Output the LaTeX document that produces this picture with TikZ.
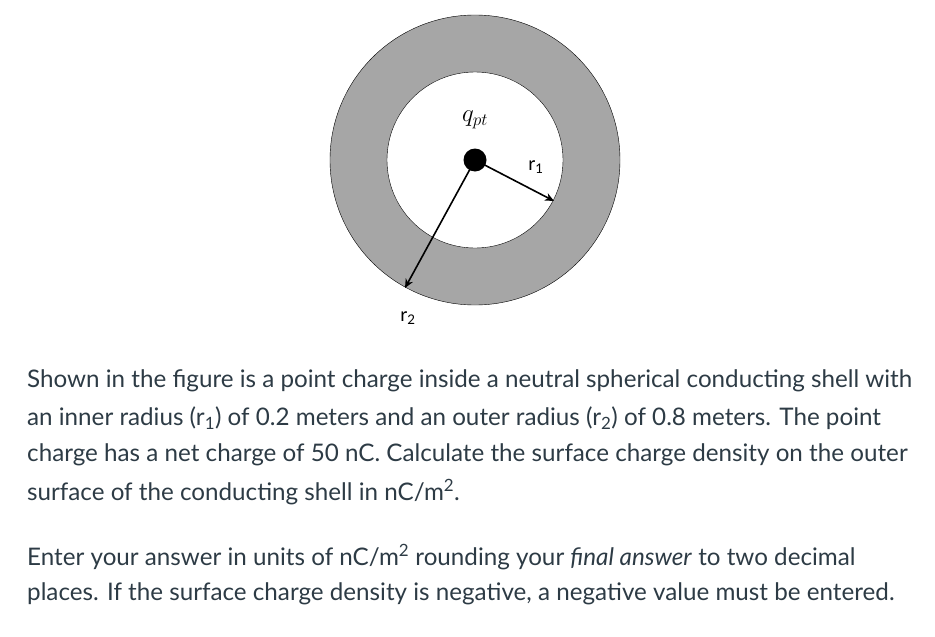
\documentclass[tikz,border=0pt]{standalone}
\usepackage{fontspec}
\setmainfont{Lato}
\usepackage{tikz}
\usetikzlibrary{arrows.meta, positioning}
\definecolor{shellgray}{HTML}{A6A6A6}
\definecolor{textgray}{HTML}{2D3B45}

\begin{document}
\begin{tikzpicture}[
        x=1pt, y=-1pt,
        line/.style={anchor=west, font=\fontsize{24.2}{28}\selectfont, text=textgray, inner sep=0pt},
        radius/.style={-{Stealth[length=9pt, width=8pt]}, line width=1.6pt},
        lbl/.style={font=\fontsize{19}{22}\selectfont, inner sep=0pt}
    ]
        \useasboundingbox (0,0) rectangle (935,637);
        % shell
        \fill[shellgray, draw=black, thin] (475,160) circle (145);
        \fill[white, draw=black, thin] (475,160) circle (88);
        \node[circle, fill=black, minimum size=23pt, inner sep=0pt] (q) at (475,160) {};
        \coordinate (r1end) at (554,201);
        \coordinate (r2end) at (405,288);
        \draw[radius] (q.center) -- (r1end);
        \draw[radius] (q.center) -- (r2end);
        \node[lbl, font=\fontsize{23}{26}\selectfont] (qlab) at (475,120) {$q_{pt}$};
        \node[lbl] (r1lab) at (536,167) {r\textsubscript{1}};
        \node[lbl] (r2lab) at (408,318) {r\textsubscript{2}};
        % text
        \node[line] (l1) at (27,381) {Shown in the figure is a point charge inside a neutral spherical conducting shell with};
        \node[line] (l2) at (27,418) {an inner radius (r\textsubscript{1}) of 0.2 meters and an outer radius (r\textsubscript{2}) of 0.8 meters. The point};
        \node[line] (l3) at (27,455) {charge has a net charge of 50 nC. Calculate the surface charge density on the outer};
        \node[line] (l4) at (27,492) {surface of the conducting shell in nC/m\textsuperscript{2}.};
        \node[line] (l5) at (27,557) {Enter your answer in units of nC/m\textsuperscript{2} rounding your \textit{final answer} to two decimal};
        \node[line] (l6) at (27,594) {places. If the surface charge density is negative, a negative value must be entered.};
    \end{tikzpicture}
\end{document}
